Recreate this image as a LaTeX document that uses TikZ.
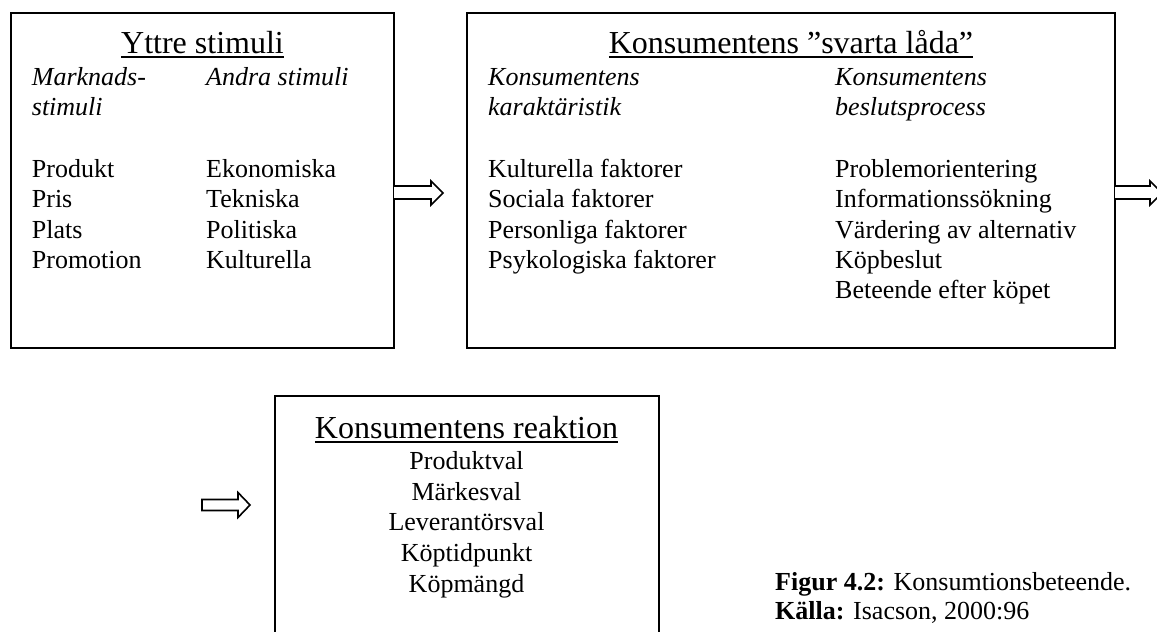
\documentclass[tikz,border=0pt]{standalone}
\usepackage{fontspec}
\setmainfont{Liberation Serif}
\newcommand\bodyfont{\fontsize{26}{30}\selectfont}
\newcommand\headfont{\fontsize{32}{38}\selectfont}
\newcommand\ulhead[1]{\setbox0\hbox{#1}\rlap{\rule[-5pt]{\wd0}{1.8pt}}\box0}
\begin{document}
\begin{tikzpicture}[x=1pt,y=-1pt,
  box/.style={draw, line width=1.8pt, rectangle, inner sep=0pt, outer sep=0pt, anchor=north west},
  lt/.style={anchor=base west, inner sep=0pt, font=\bodyfont},
  it/.style={anchor=base west, inner sep=0pt, font=\bodyfont\itshape},
  ct/.style={anchor=base, inner sep=0pt, font=\bodyfont},
  hd/.style={anchor=base, inner sep=0pt, font=\headfont},
  blk/.style={draw, line width=1.6pt, line join=miter, fill=white}]
\clip (0,0) rectangle (1157,632);
% boxes
\node[box, minimum width=383pt, minimum height=335pt] (b1) at (11,13) {};
\node[box, minimum width=648pt, minimum height=335pt] (b2) at (467,13) {};
\node[box, minimum width=384pt, minimum height=270pt] (b3) at (275,396) {};
% block arrows
\draw[blk] (394,186) -- (431,186) -- (431,181) -- (443,193) -- (431,205) -- (431,199) -- (394,199);
\draw[blk] (1115,186) -- (1150,186) -- (1150,181) -- (1162,193) -- (1150,205) -- (1150,199) -- (1115,199);
\draw[blk] (202,499.5) -- (238,499.5) -- (238,492.5) -- (250,505) -- (238,517.5) -- (238,510.5) -- (202,510.5) -- cycle;
% box 1
\node[hd] (h1) at (202.5,53) {\ulhead{Yttre stimuli}};
\node[it] (m1) at (31.7,85) {Marknads-};
\node[it] (m2) at (31.7,115) {stimuli};
\node[it] (a1) at (206,85) {Andra stimuli};
\node[lt] (p1) at (31.7,177) {Produkt};
\node[lt] (p2) at (31.7,207.5) {Pris};
\node[lt] (p3) at (31.7,238) {Plats};
\node[lt] (p4) at (31.7,268) {Promotion};
\node[lt] (e1) at (206,177) {Ekonomiska};
\node[lt] (e2) at (206,207.5) {Tekniska};
\node[lt] (e3) at (206,238) {Politiska};
\node[lt] (e4) at (206,268) {Kulturella};
% box 2
\node[hd] (h2) at (791,53) {\ulhead{Konsumentens ”svarta låda”}};
\node[it] (k1) at (488,85) {Konsumentens};
\node[it] (k2) at (488,115) {karaktäristik};
\node[it] (d1) at (835,85) {Konsumentens};
\node[it] (d2) at (835,115) {beslutsprocess};
\node[lt] (f1) at (488,177) {Kulturella faktorer};
\node[lt] (f2) at (488,207.5) {Sociala faktorer};
\node[lt] (f3) at (488,238) {Personliga faktorer};
\node[lt] (f4) at (488,268) {Psykologiska faktorer};
\node[lt] (s1) at (835,177) {Problemorientering};
\node[lt] (s2) at (835,207.5) {Informationssökning};
\node[lt] (s3) at (835,238) {Värdering av alternativ};
\node[lt] (s4) at (835,268) {Köpbeslut};
\node[lt] (s5) at (835,298.5) {Beteende efter köpet};
% box 3
\node[hd] (h3) at (466.5,438) {\ulhead{Konsumentens reaktion}};
\node[ct] (r1) at (466.5,469) {Produktval};
\node[ct] (r2) at (466.5,500) {Märkesval};
\node[ct] (r3) at (466.5,530.5) {Leverantörsval};
\node[ct] (r4) at (466.5,561) {Köptidpunkt};
\node[ct] (r5) at (466.5,592) {Köpmängd};
% caption
\node[lt] (c1) at (775,590) {\textbf{Figur 4.2:} Konsumtionsbeteende.};
\node[lt] (c2) at (775,619) {\textbf{Källa:} Isacson, 2000:96};
\end{tikzpicture}
\end{document}
